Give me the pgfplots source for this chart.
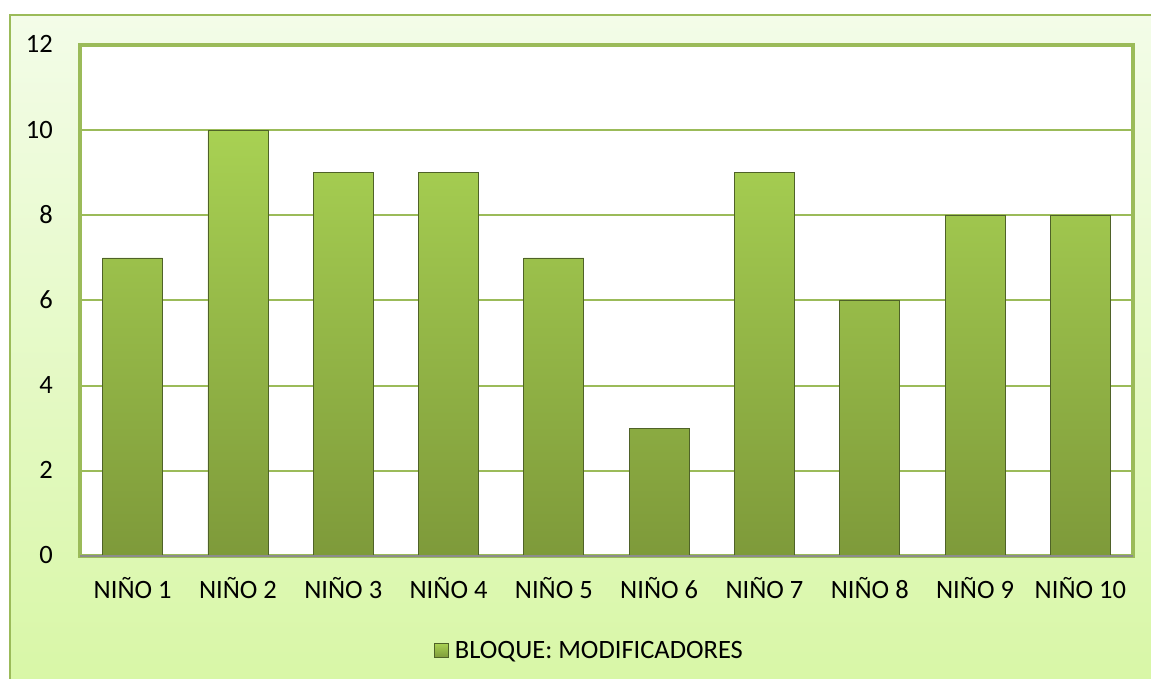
\documentclass[border=0pt]{standalone}
\usepackage{fontspec}
\setmainfont{Carlito}
\usepackage{pgfplots}
\pgfplotsset{compat=1.18}
\definecolor{frame}{HTML}{9BBB59}
\definecolor{bgtop}{HTML}{F3FCE8}
\definecolor{bgbot}{HTML}{D8F7A6}
\definecolor{bartop}{HTML}{A8D153}
\definecolor{barbot}{HTML}{7E9A3A}
\definecolor{barline}{HTML}{4F6228}
\definecolor{axgray}{HTML}{8C8C8C}
\begin{document}
\begin{tikzpicture}[x=1pt,y=1pt]
\useasboundingbox (0,0) rectangle (1151,679);
\fill[white] (0,0) rectangle (1151,679);
\shade[top color=bgtop,bottom color=bgbot] (10,-10) rectangle (1165,664);
\draw[frame,line width=2pt] (10,-10) rectangle (1165,664);
\begin{axis}[
  at={(80pt,123pt)}, anchor=south west,
  scale only axis, width=1053pt, height=511pt,
  xmin=0.5, xmax=10.5, ymin=0, ymax=12,
  ytick={0,2,...,12},
  xtick={1,...,10},
  xticklabels={NIÑO 1,NIÑO 2,NIÑO 3,NIÑO 4,NIÑO 5,NIÑO 6,NIÑO 7,NIÑO 8,NIÑO 9,NIÑO 10},
  major tick length=0pt,
  tick style={draw=none},
  ymajorgrids, grid style={frame, line width=2pt},
  axis line style={frame, line width=4.5pt},
  axis background/.style={fill=white},
  tick label style={font=\fontsize{26.5}{30}\selectfont, inner sep=0pt},
  /pgf/number format/assume math mode=true,
  yticklabel style={anchor=base east, xshift=-27pt, yshift=-8pt},
  xticklabel style={anchor=base, yshift=-43pt},
  legend style={at={(axis description cs:0.484,-0.185)}, anchor=center,
    draw=none, fill=none, font=\fontsize{26.5}{30}\selectfont,
    /tikz/every odd column/.style={inner sep=0pt}},
  legend image code/.code={\shade[top color=bartop,bottom color=barbot,draw=barline,line width=0.6pt] (0pt,-7pt) rectangle (14pt,7pt);},
  clip=false,
]
\addplot[ybar, bar width=60pt, top color=bartop, bottom color=barbot, draw=barline, line width=0.8pt]
  coordinates {(1,7) (2,10) (3,9) (4,9) (5,7) (6,3) (7,9) (8,6) (9,8) (10,8)};
\addlegendentry{\hspace{4pt}BLOQUE: MODIFICADORES}
\draw[axgray, line width=2pt] (axis cs:0.5,0) -- (axis cs:10.5,0);
\end{axis}
\end{tikzpicture}
\end{document}
